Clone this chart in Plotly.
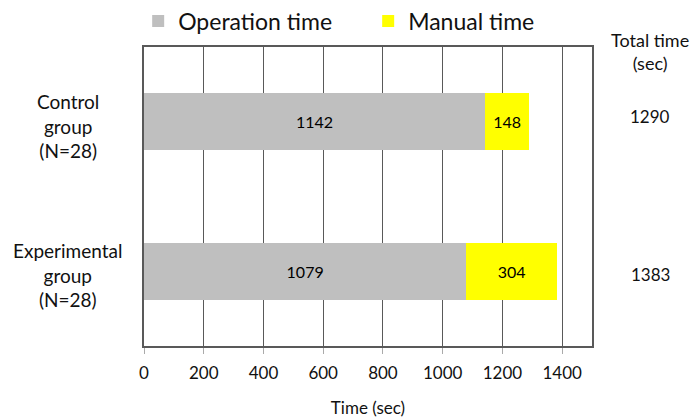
import plotly.graph_objects as go

groups = ["Control<br>group<br>(N=28)", "Experimental<br>group<br>(N=28)"]
group_keys = ["Control", "Experimental"]
operation_time = [1142, 1079]
manual_time = [148, 304]
total_time = [1290, 1383]
x_ticks = [0, 200, 400, 600, 800, 1000, 1200, 1400]

FONT = "Lato"
TXT = "#111111"
fig = go.Figure()
fig.add_trace(go.Bar(
    y=group_keys, x=operation_time, orientation="h", name="Operation time",
    marker=dict(color="#bfbfbf", line=dict(width=0)),
    text=[str(v) for v in operation_time], textposition="inside",
    insidetextanchor="middle", textfont=dict(size=16, color="black", family=FONT),
))
fig.add_trace(go.Bar(
    y=group_keys, x=manual_time, orientation="h", name="Manual time",
    marker=dict(color="#ffff00", line=dict(width=0)),
    text=[str(v) for v in manual_time], textposition="inside",
    insidetextanchor="middle", textfont=dict(size=16, color="black", family=FONT),
))

for g, lab in zip(group_keys, groups):
    fig.add_annotation(x=-0.17, xref="paper", xanchor="center", y=g, yref="y", yshift=-4,
                       text=lab, showarrow=False, align="center",
                       font=dict(size=19, color=TXT, family=FONT))
for g, t, ys in zip(group_keys, total_time, [5, -3]):
    fig.add_annotation(x=1.13, xref="paper", xanchor="center", y=g, yref="y", yshift=ys,
                       text=str(t), showarrow=False,
                       font=dict(size=17, color=TXT, family=FONT))
fig.add_annotation(x=1.13, xref="paper", xanchor="center", y=0.985, yref="paper",
                   yanchor="middle", text="Total time<br>(sec)", showarrow=False,
                   align="center", font=dict(size=18, color=TXT, family=FONT))

fig.update_layout(
    width=699, height=418,
    margin=dict(l=144, r=107, t=47, b=72, autoexpand=False),
    barmode="stack", bargap=0.62,
    plot_bgcolor="white", paper_bgcolor="white",
    font=dict(family=FONT, color=TXT),
    showlegend=True,
    legend=dict(orientation="h", x=-0.013, xanchor="left", y=1.087, yanchor="middle",
                font=dict(size=23, family=FONT, color=TXT), entrywidth=185,
                traceorder="normal", bgcolor="rgba(0,0,0,0)"),
    xaxis=dict(range=[0, 1500], tickvals=x_ticks, showgrid=True, gridcolor="#595959",
               gridwidth=1.3, zeroline=False, showline=True, linecolor="#595959", linewidth=1.5,
               mirror=True, ticks="outside", ticklen=6, tickcolor="#aaaaaa",
               automargin=False, ticklabelstandoff=5,
               tickfont=dict(size=17, family=FONT, color=TXT),
               title=dict(text="Time (sec)", font=dict(size=17, family=FONT, color=TXT), standoff=24)),
    yaxis=dict(categoryorder="array", categoryarray=group_keys, autorange="reversed",
               showticklabels=False, showgrid=False, showline=True, linecolor="#595959",
               linewidth=1.5, mirror=True, ticks="", automargin=False),
)
fig.write_html("out.html", config={"displayModeBar": False},
               post_script="document.body.style.margin='0';")
